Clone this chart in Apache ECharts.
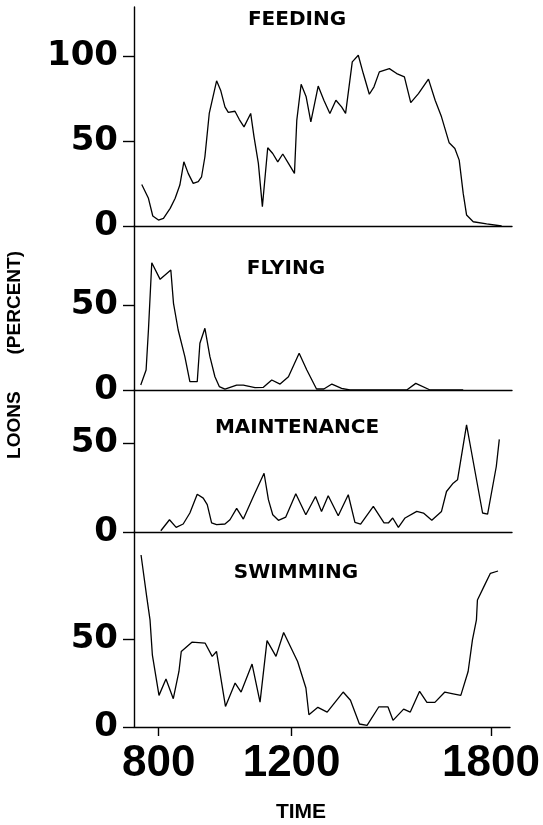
<!DOCTYPE html>
<html>
<head>
<meta charset="utf-8">
<script src="https://cdn.jsdelivr.net/npm/echarts@6/dist/echarts.min.js"></script>
<style>
  html, body { margin: 0; padding: 0; background: #fff; }
  #chart { width: 543px; height: 825px; }
</style>
</head>
<body>
<div id="chart"></div>
<script>
// time in decimal hours (8 = 800), values in percent of loons
var feedingTime = [7.49, 7.69, 7.82, 7.99, 8.14, 8.34, 8.49, 8.63, 8.75, 8.88, 9.03, 9.18, 9.28, 9.38, 9.51, 9.73, 9.85, 9.98, 10.08, 10.28, 10.41, 10.55, 10.75, 10.85, 10.98, 11.10, 11.26, 11.41, 11.56, 11.71, 11.88, 12.06, 12.13, 12.26, 12.41, 12.55, 12.77, 12.94, 13.12, 13.30, 13.47, 13.59, 13.79, 13.97, 14.12, 14.30, 14.44, 14.60, 14.90, 15.12, 15.35, 15.54, 15.77, 16.07, 16.27, 16.46, 16.69, 16.86, 16.99, 17.11, 17.21, 17.41, 17.81, 18.26];
var feedingPct = [24.5, 16.3, 5.9, 3.5, 4.5, 10.4, 16.3, 24.1, 37.8, 31.0, 25.1, 26.1, 29.0, 40.8, 66.3, 85.5, 80.0, 70.2, 66.9, 67.6, 62.7, 58.4, 66.3, 52.5, 36.9, 11.4, 46.1, 42.7, 37.8, 42.4, 36.9, 31.0, 62.4, 83.5, 76.1, 61.4, 82.4, 74.1, 66.3, 74.1, 70.2, 66.3, 96.7, 100.6, 89.8, 77.6, 82.0, 90.8, 92.7, 89.8, 87.8, 72.7, 78.0, 86.5, 74.1, 64.3, 49.0, 45.7, 38.8, 19.2, 6.5, 2.5, 1.2, 0];

var flyingTime = [7.46, 7.62, 7.69, 7.79, 8.04, 8.36, 8.44, 8.58, 8.78, 8.93, 9.15, 9.23, 9.38, 9.53, 9.68, 9.81, 9.98, 10.33, 10.53, 10.88, 11.13, 11.38, 11.63, 11.88, 12.20, 12.43, 12.72, 12.94, 13.18, 13.47, 13.72, 15.42, 15.69, 16.12, 17.11];
var flyingPct = [2.9, 11.8, 35.3, 74.9, 65.1, 70.6, 51.0, 35.3, 19.6, 4.9, 4.9, 27.5, 36.3, 19.6, 7.8, 2.0, 0.5, 2.9, 2.9, 1.4, 1.6, 5.9, 3.5, 7.8, 21.6, 11.8, 0.6, 0.6, 3.5, 1.0, 0, 0, 3.9, 0, 0];

var maintTime = [8.06, 8.32, 8.52, 8.73, 8.93, 9.15, 9.33, 9.45, 9.58, 9.73, 9.98, 10.13, 10.33, 10.53, 10.83, 11.15, 11.28, 11.41, 11.58, 11.80, 12.10, 12.40, 12.69, 12.87, 13.07, 13.37, 13.67, 13.87, 14.04, 14.42, 14.74, 14.87, 15.00, 15.17, 15.37, 15.72, 15.92, 16.17, 16.46, 16.61, 16.81, 16.94, 17.21, 17.31, 17.69, 17.84, 18.10, 18.19];
var maintPct = [0.7, 6.9, 2.6, 4.5, 10.7, 21.3, 19.1, 15.4, 5.1, 4.1, 4.5, 6.9, 13.3, 7.3, 20.0, 33.1, 18.2, 9.7, 6.6, 8.4, 21.5, 9.7, 20.0, 11.6, 20.4, 9.2, 21.0, 5.4, 4.5, 14.4, 5.1, 5.1, 7.9, 2.6, 7.9, 11.6, 10.7, 6.6, 11.6, 22.8, 27.5, 29.4, 60.3, 50.0, 10.7, 10.1, 36.9, 52.2];

var swimTime = [7.47, 7.64, 7.74, 7.81, 8.01, 8.22, 8.44, 8.61, 8.68, 9.00, 9.40, 9.61, 9.74, 10.01, 10.30, 10.48, 10.81, 11.05, 11.26, 11.53, 11.76, 12.18, 12.43, 12.52, 12.79, 13.07, 13.55, 13.77, 14.04, 14.27, 14.62, 14.90, 15.05, 15.37, 15.57, 15.85, 16.07, 16.31, 16.61, 16.86, 17.09, 17.31, 17.44, 17.56, 17.59, 17.81, 17.98, 18.21];
var swimPct = [97.9, 74.2, 61.0, 41.1, 18.0, 27.3, 16.1, 31.6, 43.0, 48.3, 47.7, 40.2, 43.0, 11.7, 25.0, 19.9, 35.8, 14.2, 49.2, 40.2, 53.8, 37.3, 22.2, 7.0, 11.2, 8.5, 19.9, 15.2, 1.7, 0.9, 11.4, 11.4, 3.8, 10.2, 8.5, 20.3, 14.0, 14.0, 19.9, 18.9, 18.0, 31.6, 49.6, 61.0, 72.3, 80.9, 87.5, 88.8];

var panelNames = ["FEEDING", "FLYING", "MAINTENANCE", "SWIMMING"];
var yTicks = [[0, 50, 100], [0, 50], [0, 50], [0, 50]];
var xTicks = [8, 12, 18];

var series_t = [feedingTime, flyingTime, maintTime, swimTime];
var series_v = [feedingPct, flyingPct, maintPct, swimPct];

// layout of the four stacked panels
var grids = [
  { top: 7, height: 219, ymax: 129 },
  { top: 226, height: 164, ymax: 96.5 },
  { top: 390, height: 142, ymax: 80 },
  { top: 532, height: 195, ymax: 111 }
];
var titlePos = [[297, 20], [286, 269], [297, 428], [296, 573]];

var axisColor = "#000";
var xMin = 7.258, xMax = 18.57;

function zip(t, v) {
  var out = [];
  for (var i = 0; i < t.length; i++) out.push([t[i], v[i]]);
  return out;
}

var gridOpt = [], xAxes = [], yAxes = [], seriesOpt = [], graphics = [];
for (var i = 0; i < 4; i++) {
  var last = i === 3;
  gridOpt.push({ left: 134, width: 378, top: grids[i].top, height: grids[i].height });
  xAxes.push({
    gridIndex: i,
    type: "value",
    min: xMin,
    max: xMax,
    splitLine: { show: false },
    axisLine: { show: true, lineStyle: { color: axisColor, width: 1.4 } },
    axisTick: { show: last, customValues: xTicks, length: 9, lineStyle: { color: axisColor, width: 1.4 } },
    axisLabel: {
      show: last,
      customValues: xTicks,
      margin: 15,
      color: "#000",
      fontFamily: "Liberation Sans",
      fontWeight: "bold",
      fontSize: 44,
      formatter: function (v) { return String(Math.round(v * 100)); }
    }
  });
  yAxes.push({
    gridIndex: i,
    type: "value",
    min: 0,
    max: grids[i].ymax,
    splitLine: { show: false },
    axisLine: { show: true, lineStyle: { color: axisColor, width: 1.4 } },
    axisTick: { show: true, customValues: yTicks[i], length: 11, lineStyle: { color: axisColor, width: 1.4 } },
    axisLabel: {
      customValues: yTicks[i],
      margin: 16,
      color: "#000",
      fontFamily: "DejaVu Sans",
      fontWeight: "bold",
      fontSize: 34
    }
  });
  seriesOpt.push({
    name: panelNames[i],
    type: "line",
    xAxisIndex: i,
    yAxisIndex: i,
    data: zip(series_t[i], series_v[i]),
    showSymbol: false,
    symbol: "none",
    animation: false,
    lineStyle: { color: "#000", width: 1.3 }
  });
  graphics.push({
    type: "text",
    x: titlePos[i][0],
    y: titlePos[i][1],
    style: {
      text: panelNames[i],
      fill: "#000",
      font: "bold 20px 'DejaVu Sans'",
      textAlign: "center",
      textVerticalAlign: "middle"
    }
  });
}

// axis titles
graphics.push({
  type: "text",
  x: 301,
  y: 812,
  style: {
    text: "TIME",
    fill: "#000",
    font: "bold 21px 'Liberation Sans'",
    textAlign: "center",
    textVerticalAlign: "middle"
  }
});
graphics.push({
  type: "text",
  x: 15,
  y: 355,
  rotation: Math.PI / 2,
  style: {
    text: "LOONS       (PERCENT)",
    fill: "#000",
    font: "bold 19px 'Liberation Sans'",
    textAlign: "center",
    textVerticalAlign: "middle"
  }
});

var myChart = echarts.init(document.getElementById("chart"));
myChart.setOption({
  animation: false,
  backgroundColor: "#fff",
  grid: gridOpt,
  xAxis: xAxes,
  yAxis: yAxes,
  series: seriesOpt,
  graphic: graphics
});
</script>
</body>
</html>
